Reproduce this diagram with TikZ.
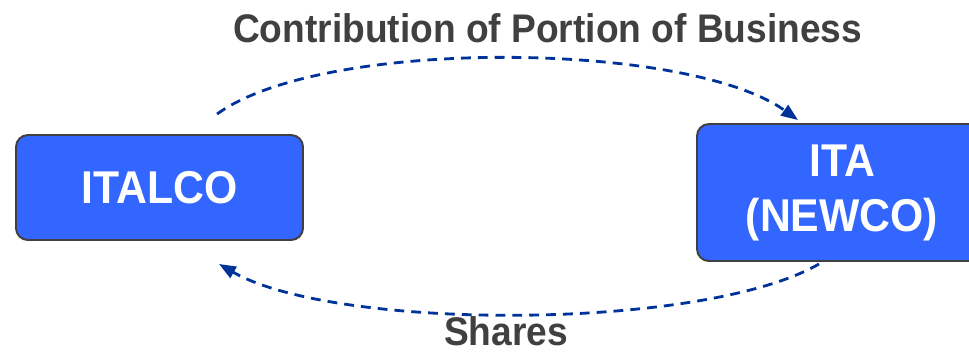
\documentclass[tikz,border=0pt]{standalone}
\usepackage{fontspec}
\setmainfont{Liberation Sans}[FakeStretch=0.93]
\usetikzlibrary{arrows.meta}
\definecolor{boxblue}{HTML}{3366FF}
\definecolor{boxline}{HTML}{404040}
\definecolor{flowblue}{HTML}{003399}
\definecolor{labelgray}{HTML}{404040}
\begin{document}
\begin{tikzpicture}[
  firm/.style={draw=boxline, line width=1.4pt, fill=boxblue, rounded corners=0.3cm, rectangle, align=center,
    text=white, font=\fontsize{32.7}{39.1}\selectfont\bfseries},
  flow/.style={draw=flowblue, line width=2pt, dash pattern=on 7pt off 5pt, -{Triangle[length=12pt,width=9pt]}},
  caption/.style={text=labelgray, font=\fontsize{28.4}{34}\selectfont\bfseries, anchor=base, inner sep=0pt}]
\useasboundingbox (0,0) rectangle (24.225,-8.825);
\begin{scope}
\clip (0,0) rectangle (24.225,-8.825);
\node[firm, minimum width=7.175cm, minimum height=2.625cm] (italco) at (3.9875,-4.6875) {ITALCO};
\node[firm, minimum width=7.25cm, minimum height=3.425cm] (ita) at (21.05,-4.8125) {ITA\\(NEWCO)};
\end{scope}
\node[caption] (contrib) at (13.69,-1.05) {Contribution of Portion of Business};
\node[caption] (shares) at (12.65,-8.64) {Shares};
\coordinate (gs) at ([shift={(1.44,0.5)}]italco.north);
\coordinate (ge) at ([shift={(-1.1,0.075)}]ita.north);
\coordinate (ss) at ([shift={(-0.575,-0.05)}]ita.south);
\coordinate (se) at ([shift={(1.4875,-0.575)}]italco.south);
\draw[flow] (gs) .. controls +(2.65,1.925) and +(-2.75,1.975) .. (ge);
\draw[flow] (ss) .. controls +(-2.9,-1.675) and +(2.9,-1.675) .. (se);
\end{tikzpicture}
\end{document}
